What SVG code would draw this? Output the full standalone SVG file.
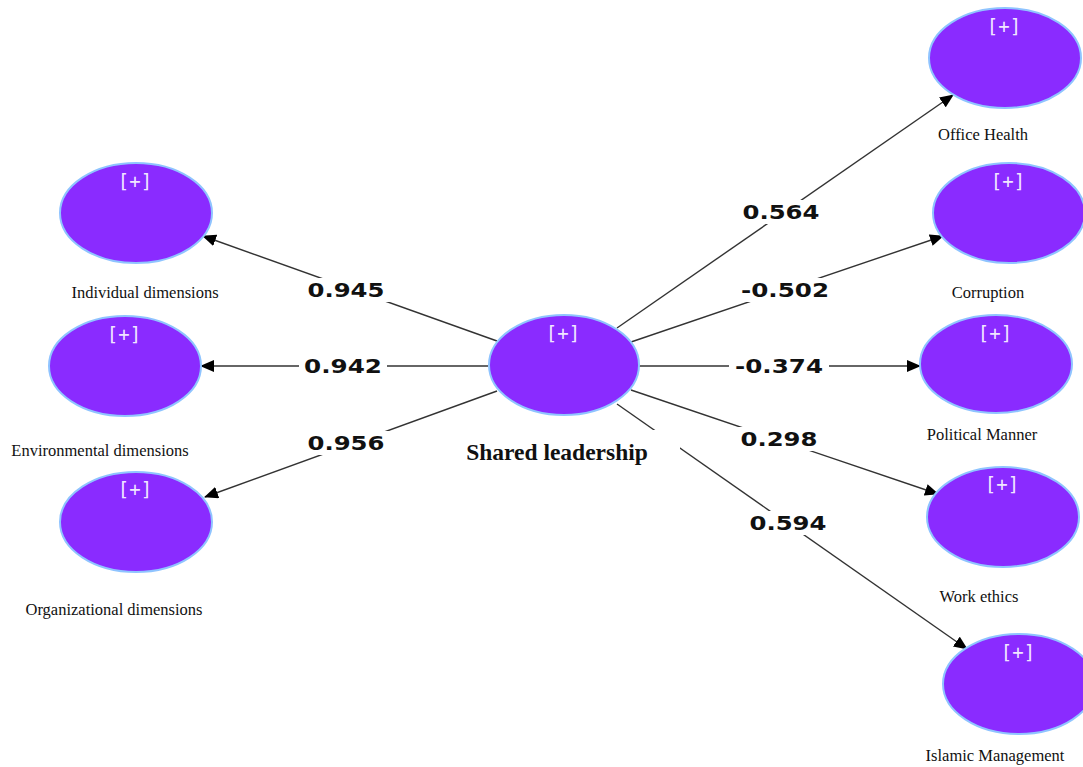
<svg xmlns="http://www.w3.org/2000/svg" width="1083" height="767" viewBox="0 0 1083 767">
<style>
.node{fill:#8a2bff;stroke:#8fc4ff;stroke-width:2}
.plus{font-family:"DejaVu Sans Mono",monospace;font-size:19px;fill:#f0e6ff;text-anchor:middle}
.lbl{font-family:"Liberation Serif",serif;font-size:16.5px;fill:#111;text-anchor:middle}
.edge{stroke:#333;stroke-width:1.4;fill:none;marker-end:url(#arr)}
.val{font-family:"DejaVu Sans",sans-serif;font-weight:bold;font-size:19px;fill:#111;text-anchor:middle}
.bg{fill:#fff}
</style>
<defs>
<marker id="arr" viewBox="0 0 14 12" refX="13" refY="6" markerWidth="14" markerHeight="12" markerUnits="userSpaceOnUse" orient="auto">
<path d="M0,0 L14,6 L0,12 Z" fill="#000"/>
</marker>
</defs>
<rect width="1083" height="767" fill="#fff"/>
<g id="connectors">
<line class="edge" x1="497" y1="341" x2="203" y2="236"/>
<line class="edge" x1="488" y1="366" x2="201" y2="366"/>
<line class="edge" x1="497" y1="391" x2="205" y2="497"/>
<line class="edge" x1="617" y1="328" x2="953" y2="95"/>
<line class="edge" x1="631" y1="342" x2="943" y2="236"/>
<line class="edge" x1="639" y1="366" x2="920" y2="366"/>
<line class="edge" x1="631" y1="390" x2="938" y2="494"/>
<line class="edge" x1="617" y1="404" x2="967" y2="649"/>
<rect class="bg" x="302" y="278" width="88" height="24"/>
<rect class="bg" x="299" y="354" width="88" height="24"/>
<rect class="bg" x="302" y="431" width="88" height="24"/>
<rect class="bg" x="737" y="200" width="88" height="24"/>
<rect class="bg" x="735" y="278" width="100" height="24"/>
<rect class="bg" x="729" y="354" width="100" height="24"/>
<rect class="bg" x="735" y="427" width="88" height="24"/>
<rect class="bg" x="744" y="511" width="88" height="24"/>
<text class="val" x="346" y="297" textLength="77" lengthAdjust="spacingAndGlyphs">0.945</text>
<text class="val" x="343" y="373" textLength="78" lengthAdjust="spacingAndGlyphs">0.942</text>
<text class="val" x="346" y="450" textLength="77" lengthAdjust="spacingAndGlyphs">0.956</text>
<text class="val" x="781" y="219" textLength="77" lengthAdjust="spacingAndGlyphs">0.564</text>
<text class="val" x="785" y="297" textLength="88" lengthAdjust="spacingAndGlyphs">-0.502</text>
<text class="val" x="779" y="373" textLength="88" lengthAdjust="spacingAndGlyphs">-0.374</text>
<text class="val" x="779" y="446" textLength="77" lengthAdjust="spacingAndGlyphs">0.298</text>
<text class="val" x="788" y="530" textLength="77" lengthAdjust="spacingAndGlyphs">0.594</text>
</g>
<g id="shared-leadership">
<ellipse class="node" cx="564" cy="365" rx="75" ry="50"/>
<text class="plus" x="563" y="340">[+]</text>
<rect class="bg" x="462" y="430" width="218" height="40"/>
<text x="557" y="460" font-family="Liberation Serif,serif" font-weight="bold" font-size="23.5" fill="#111" text-anchor="middle">Shared leadership</text>
</g>
<g id="individual-dimensions">
<ellipse class="node" cx="136" cy="213" rx="76" ry="50"/>
<text class="plus" x="135" y="188">[+]</text>
<text class="lbl" x="145" y="298">Individual dimensions</text>
</g>
<g id="environmental-dimensions">
<ellipse class="node" cx="125" cy="366" rx="76" ry="50"/>
<text class="plus" x="124" y="341">[+]</text>
<text class="lbl" x="100" y="456">Environmental dimensions</text>
</g>
<g id="organizational-dimensions">
<ellipse class="node" cx="136" cy="522" rx="76" ry="50"/>
<text class="plus" x="135" y="496">[+]</text>
<text class="lbl" x="114" y="615">Organizational dimensions</text>
</g>
<g id="office-health">
<ellipse class="node" cx="1005" cy="58" rx="76" ry="50"/>
<text class="plus" x="1004" y="33">[+]</text>
<text class="lbl" x="983" y="140">Office Health</text>
</g>
<g id="corruption">
<ellipse class="node" cx="1009" cy="213" rx="76" ry="50"/>
<text class="plus" x="1008" y="188">[+]</text>
<text class="lbl" x="988" y="298">Corruption</text>
</g>
<g id="political-manner">
<ellipse class="node" cx="996" cy="364" rx="76" ry="49"/>
<text class="plus" x="995" y="340">[+]</text>
<text class="lbl" x="982" y="440">Political Manner</text>
</g>
<g id="work-ethics">
<ellipse class="node" cx="1003" cy="517" rx="76" ry="50"/>
<text class="plus" x="1002" y="491">[+]</text>
<text class="lbl" x="979" y="602">Work ethics</text>
</g>
<g id="islamic-management">
<ellipse class="node" cx="1019" cy="684" rx="76" ry="50"/>
<text class="plus" x="1018" y="659">[+]</text>
<text class="lbl" x="995" y="761">Islamic Management</text>
</g>
</svg>
